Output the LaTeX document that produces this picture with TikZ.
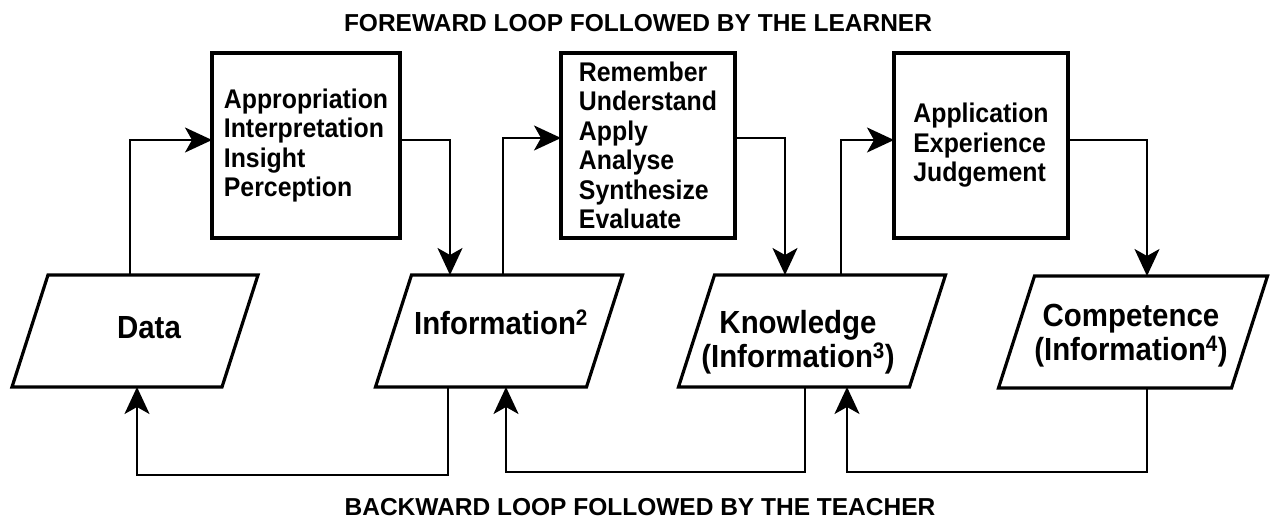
\documentclass[tikz,border=0pt]{standalone}
\usepackage{fontspec}
\setmainfont{Liberation Sans}
\newfontfamily\heavy{Liberation Sans}[UprightFont={* Bold},FakeStretch=0.92]
\newfontfamily\heavycaps{Liberation Sans}[UprightFont={* Bold}]
\usetikzlibrary{arrows.meta,calc}
\begin{document}
\begin{tikzpicture}[x=1pt,y=-1pt,
 box/.style={draw, line width=3.2pt, minimum width=#1, minimum height=185pt, inner sep=0pt, outer sep=0pt, align=left, font=\heavy\fontsize{27}{29.5}\selectfont},
 para/.style={minimum width=#1, minimum height=112pt, inner sep=0pt, outer sep=0pt},
 ptext/.style={font=\heavy\fontsize{32}{34}\selectfont, align=center, inner sep=0pt},
 title/.style={font=\heavycaps\fontsize{24.5}{28}\selectfont, inner sep=0pt, anchor=base},
 pline/.style={line width=3.2pt, line join=miter},
 arr/.style={line width=2pt, -{Stealth[length=27pt,width=25pt,inset=7pt]}}]
\useasboundingbox (0,0) rectangle (1272,518);
% boxes
\node[box=188pt] (b1) at (306,145.5) {Appropriation\\Interpretation\\Insight\\Perception};
\node[box=174pt] (b2) at (648,145.5) {Remember\\Understand\\Apply\\Analyse\\Synthesize\\Evaluate};
\node[box=174pt] (b3) at (981,145.5) {Application\\Experience\\Judgement};
% parallelograms
\node[para=210pt] (data) at (135,331) {};
\node[para=211pt] (info) at (499,331) {};
\node[para=231pt] (know) at (812,331) {};
\node[para=233pt] (comp) at (1133,332) {};
\foreach \n in {data,info,know,comp}
  \draw[pline] ($(\n.south west)+(-18,0)$) -- ($(\n.south east)+(-18,0)$) -- ($(\n.north east)+(18,0)$) -- ($(\n.north west)+(18,0)$) -- cycle;
\node[ptext, anchor=base] (datat) at (149,339) {Data};
\node[ptext, anchor=base] (infot) at (501,335) {Information\textsuperscript{2}};
\node[ptext] (knowt) at (798,342) {Knowledge\\(Information\textsuperscript{3})};
\node[ptext] (compt) at (1131,335.5) {Competence\\(Information\textsuperscript{4})};
% titles
\node[title] (fw) at (638,32) {FOREWARD LOOP FOLLOWED BY THE LEARNER};
\node[title] (bw) at (640,515) {BACKWARD LOOP FOLLOWED BY THE TEACHER};
% forward arrows
\draw[arr] ([xshift=-5pt]data.north) |- ([yshift=5.5pt]b1.west);
\draw[arr] ([yshift=5.5pt]b1.east) -| ([xshift=-49pt]info.north);
\draw[arr] ([xshift=4pt]info.north) |- ([yshift=7.5pt]b2.west);
\draw[arr] ([yshift=7.5pt]b2.east) -| ([xshift=-27pt]know.north);
\draw[arr] ([xshift=29pt]know.north) |- ([yshift=5.5pt]b3.west);
\draw[arr] ([yshift=5.5pt]b3.east) -| ([xshift=14pt]comp.north);
% backward arrows
\draw[arr] ([xshift=-51pt]info.south) -- ++(0,88) -| ([xshift=2pt]data.south);
\draw[arr] ([xshift=-7pt]know.south) -- ++(0,85) -| ([xshift=7pt]info.south);
\draw[arr] ([xshift=14pt]comp.south) -- ++(0,84) -| ([xshift=35pt]know.south);
\end{tikzpicture}
\end{document}
